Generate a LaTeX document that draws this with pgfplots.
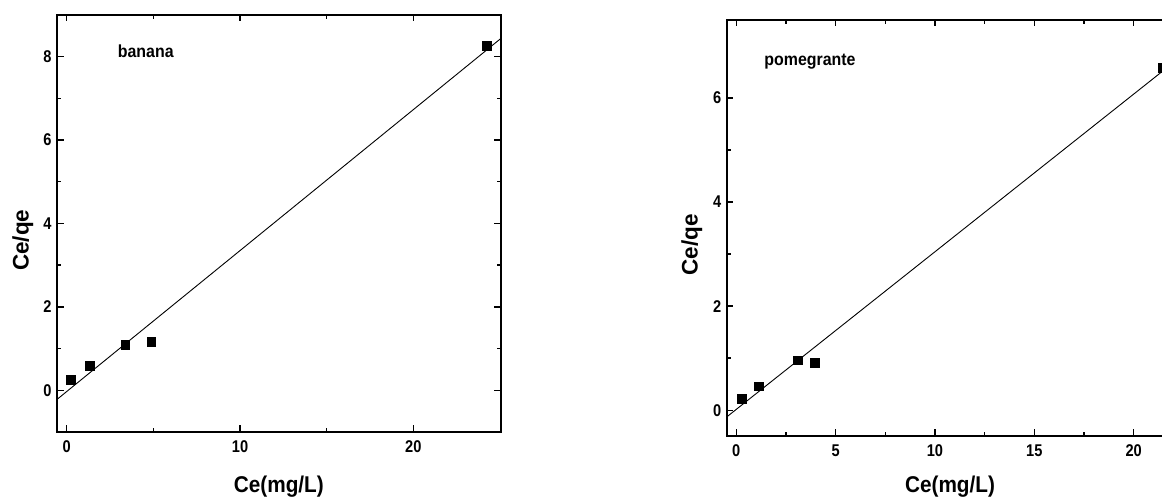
\documentclass[border=0pt]{standalone}
\usepackage{fontspec}
\setmainfont{Liberation Sans}
% slightly condensed faces for the tick numbers and the labels
\newfontfamily\tickfont[FakeStretch=0.86]{Liberation Sans}
\newfontfamily\labfont[FakeStretch=0.91]{Liberation Sans}
\newcommand\ticktext{\tickfont\fontsize{17}{18}\selectfont\bfseries}
\usepackage{pgfplots}
\pgfplotsset{compat=1.18}

\tikzset{
  sampletag/.style={anchor=west, font=\labfont\fontsize{17.5}{19}\selectfont\bfseries},
}
\pgfplotsset{
  isotherm/.style={
    scale only axis,
    anchor=south west,
    axis line style={line width=1.8pt},
    tick align=inside,
    major tick length=6.5pt,
    minor tick length=4pt,
    every tick/.style={black, line width=1.4pt},
    xticklabel={\ticktext\pgfmathprintnumber[assume math mode=true]{\tick}},
    yticklabel={\ticktext\pgfmathprintnumber[assume math mode=true]{\tick}},
    xticklabel style={yshift=-5.5pt},
    yticklabel style={xshift=-2pt},
    label style={font=\labfont\fontsize{22.8}{25}\selectfont\bfseries},
    minor x tick num=1,
    minor y tick num=1,
    xtick pos=both, ytick pos=both,
    clip=true,
  },
  fitline/.style={black, line width=0.9pt, no marks},
  pts/.style={only marks, mark=square*, mark size=4.4pt, black},
}

\begin{document}
\begin{tikzpicture}
\path[use as bounding box] (0,0) rectangle (1162pt,500pt);
\clip (0,0) rectangle (1162pt,500pt);

% banana peel
\begin{axis}[isotherm,
  at={(57pt,68pt)}, width=443.7pt, height=417pt,
  xmin=-0.56, xmax=25.04, ymin=-1, ymax=9,
  xtick={0,10,20}, ytick={0,2,4,6,8},
  xlabel={Ce(mg/L)}, ylabel={Ce/qe},
  xlabel style={at={(axis description cs:0.5,-0.131)}, anchor=center},
  ylabel style={at={(axis description cs:-0.077,0.46)}, anchor=center, font=\fontsize{22.5}{24}\selectfont\bfseries},
]
\addplot[pts] coordinates {(0.23,0.26) (1.31,0.59) (3.38,1.09) (4.88,1.16) (24.23,8.27)};
\addplot[fitline] coordinates {(-0.56,-0.219) (25.04,8.434)};
\node[sampletag] at (axis cs:2.75,8.14) {banana};
\end{axis}

% pomegranate peel
\begin{axis}[isotherm,
  at={(726.7pt,64.3pt)}, width=446.7pt, height=415.7pt,
  xmin=-0.48, xmax=22, ymin=-0.49, ymax=7.5,
  xtick={0,5,10,15,20}, ytick={0,2,4,6},
  xlabel={Ce(mg/L)}, ylabel={Ce/qe},
  xlabel style={at={(axis description cs:0.5,-0.123)}, anchor=center},
  ylabel style={at={(axis description cs:-0.078,0.459)}, anchor=center, font=\fontsize{22.5}{24}\selectfont\bfseries},
]
\addplot[pts] coordinates {(0.29,0.22) (1.11,0.46) (3.10,0.96) (3.93,0.91) (21.45,6.58)};
\addplot[fitline] coordinates {(-0.48,-0.130) (22,6.681)};
\node[sampletag] at (axis cs:1.24,6.70) {pomegrante};
\end{axis}
\end{tikzpicture}
\end{document}
